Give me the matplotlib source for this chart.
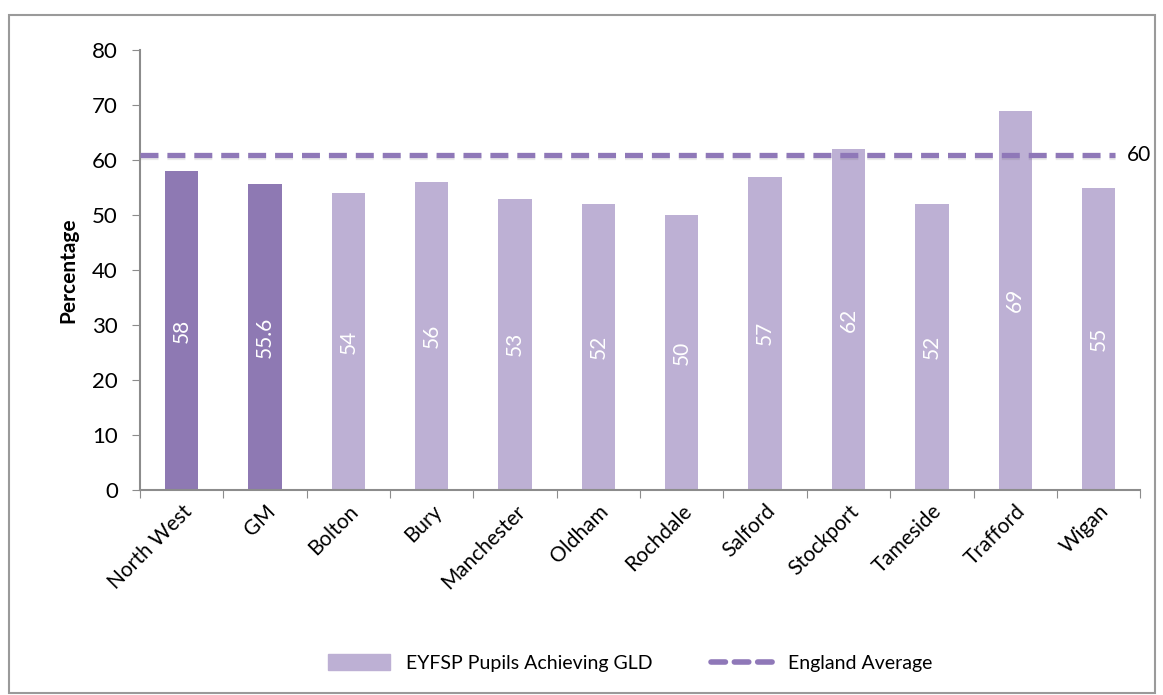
import matplotlib
matplotlib.use("Agg")
import matplotlib.pyplot as plt
import matplotlib.patheffects as pe
from matplotlib.patches import Rectangle
from matplotlib.lines import Line2D
import numpy as np

plt.rcParams['font.family'] = ['Lato', 'DejaVu Sans']

areas = ["North West", "GM", "Bolton", "Bury", "Manchester", "Oldham",
         "Rochdale", "Salford", "Stockport", "Tameside", "Trafford", "Wigan"]
gld = [58, 55.6, 54, 56, 53, 52, 50, 57, 62, 52, 69, 55]
bar_labels = ["58", "55.6", "54", "56", "53", "52", "50", "57", "62", "52", "69", "55"]
england_avg = 61
england_label = "60"

dark = "#8E79B3"
light = "#BDB0D4"
line_col = "#8F78B8"
colors = [dark, dark] + [light] * (len(areas) - 2)

fig = plt.figure(figsize=(11.63, 6.95), dpi=100)
ax = fig.add_axes([0.1204, 0.295, 0.860, 0.633])

x = np.arange(len(areas))
ax.bar(x, gld, width=0.4, color=colors, zorder=2)
for xi, v, lab in zip(x, gld, bar_labels):
    ax.text(xi, v / 2, lab, rotation=90, ha="center", va="center",
            color="white", fontsize=15, zorder=3)

# England average line, stops a bit short of the axis end
ax.hlines(england_avg, -0.5, len(areas) - 0.8, color=line_col, lw=3.8,
          linestyles=(0, (3.4, 1.7)), zorder=4,
          path_effects=[pe.SimpleLineShadow(offset=(0, -2), alpha=0.12, shadow_color="#555555"),
                        pe.Normal()])
ax.text(len(areas) - 0.66, england_avg, england_label, ha="left", va="center",
        fontsize=15, clip_on=False)

ax.set_xlim(-0.5, len(areas) - 0.5)
ax.set_ylim(0, 80)
ax.set_yticks(range(0, 81, 10))
ax.set_xticks(np.arange(-0.5, len(areas), 1))
ax.set_xticklabels([])
ax.set_xticks(x, minor=True)
ax.set_xticklabels(areas, minor=True, rotation=45, ha="right", rotation_mode="anchor",
                   fontsize=15)
ax.tick_params(axis="x", which="minor", length=0, pad=8)
ax.tick_params(axis="x", which="major", length=6, color="#8c8c8c", direction="out")
ax.tick_params(axis="y", length=6, color="#8c8c8c", labelsize=16, pad=10)
for s in ["top", "right"]:
    ax.spines[s].set_visible(False)
for s in ["left", "bottom"]:
    ax.spines[s].set_color("#8c8c8c")
    ax.spines[s].set_linewidth(1.5)
ax.set_ylabel("Percentage", fontsize=15, fontweight="bold", labelpad=10)

handles = [Rectangle((0, 0), 1, 1, color=light),
           Line2D([0], [0], color=line_col, lw=4, dashes=(2.6, 1.6), dash_capstyle="round")]
fig.legend(handles, ["EYFSP Pupils Achieving GLD", "England Average"],
           loc="center", bbox_to_anchor=(0.542, 0.046), ncol=2, frameon=False,
           fontsize=14, handlelength=3.2, handleheight=0.9, columnspacing=3)

fig.patches.append(Rectangle((0.008, 0.003), 0.985, 0.975, transform=fig.transFigure,
                             fill=False, edgecolor="#9a9a9a", lw=1.5))

fig.savefig("out.png", dpi=100)
